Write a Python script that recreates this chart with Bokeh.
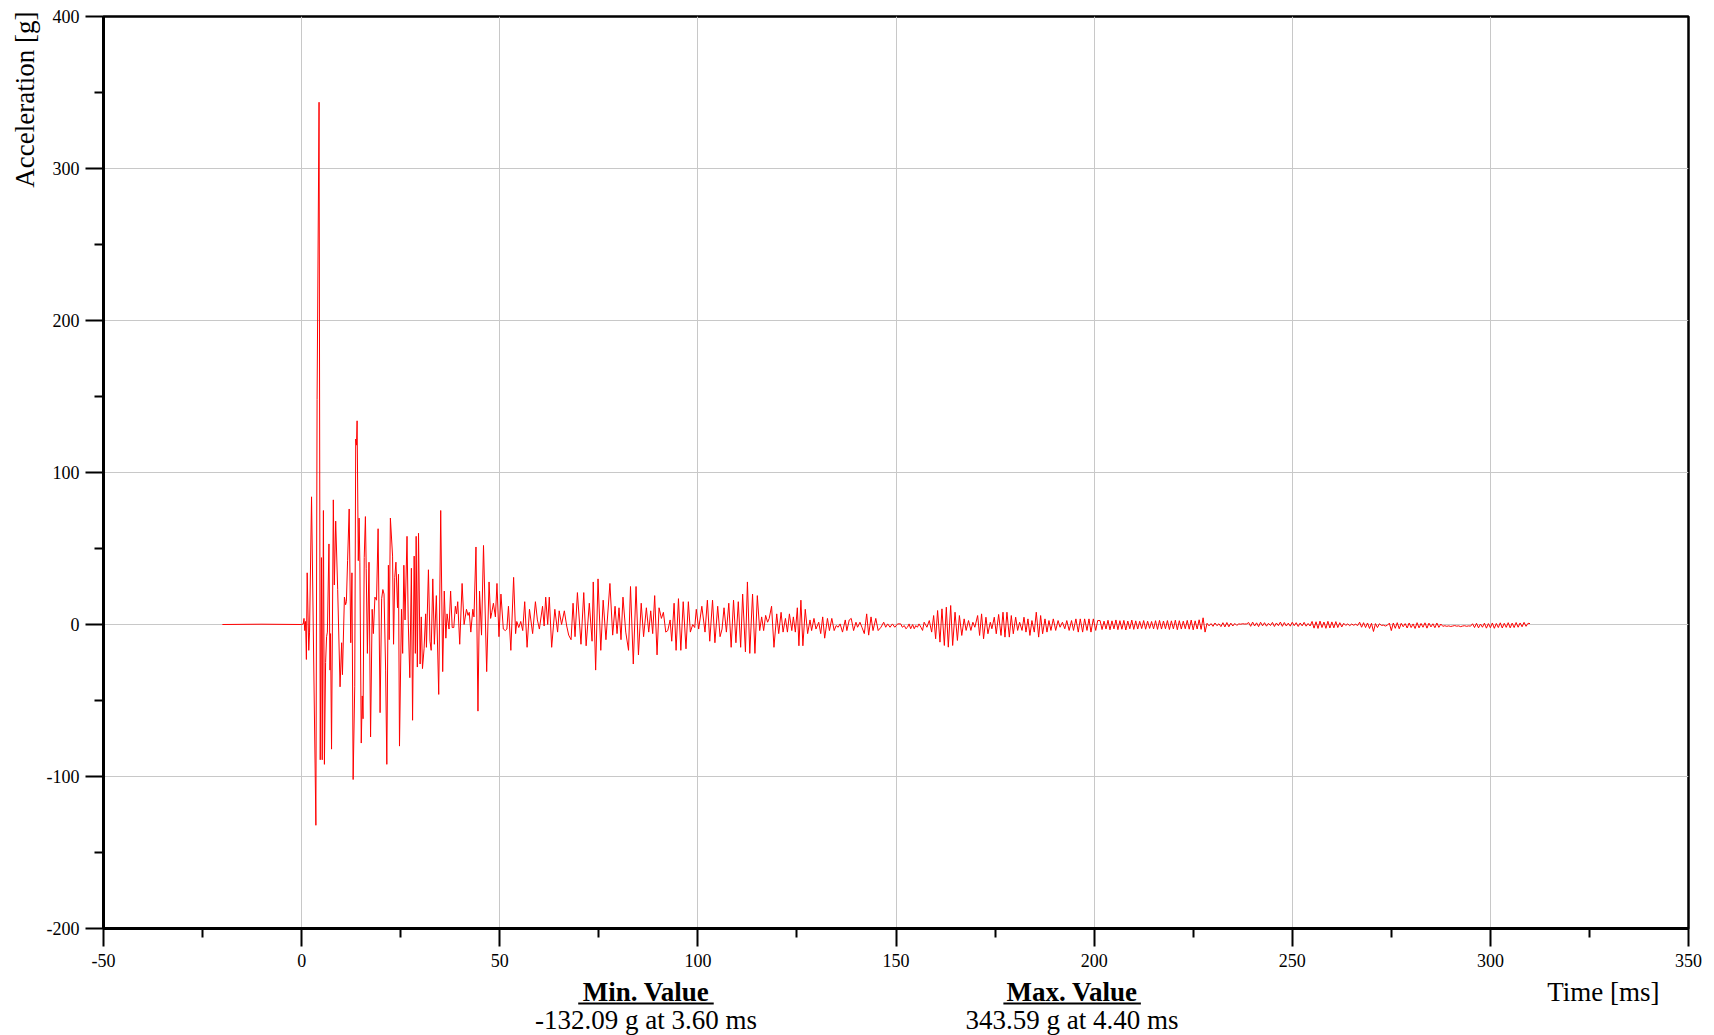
import numpy as np
from bokeh.plotting import figure
from bokeh.models import Range1d, FixedTicker, Title, PrintfTickFormatter
from bokeh.layouts import column
from bokeh.embed import file_html
from bokeh.resources import INLINE
from bokeh.core.properties import value

# ---------------- data ----------------
# impact phase (-20 .. 22 ms)
t_seg1 = [-20.0, -10.0, 0.0, 0.4, 0.6, 0.8, 1.0, 1.2, 1.4, 1.8, 2.0, 2.5, 3.6, 3.9, 4.4, 4.7, 5.0, 5.2, 5.5, 5.75,
          6.05, 6.3, 6.5, 6.9, 7.15, 7.3, 7.55, 8.0, 8.25, 8.6, 9.1, 9.7, 10.1, 10.3, 10.8, 11.1, 11.3, 11.6, 12.0, 12.4,
          12.7, 13.0, 13.4, 13.65, 13.85, 14.0, 14.3, 14.5, 14.7, 15.05, 15.3, 15.5, 15.8, 16.1, 16.3, 16.6, 17.0, 17.4,
          17.8, 18.1, 18.5, 18.9, 19.3, 19.8, 20.2, 20.5, 20.8, 21.2, 21.5, 21.9, 22.1]
a_seg1 = [0.0, 0.2, 0.0, 0.3, 4, -4, 2, -23, 34, -17, -5, 84, -132.09, 148, 343.59, -89, 44, -89, 75, -92,
          -25, -8, -5, 53, -30, -6, -82, 82, 26, 68, 23, -41, -12, -33, 18, 13, 15, 42, 76, -12,
          34, -102, -41, 122, 118, 134, 42, 70, 41, -78, -47, -62, 44, 71, 37, -19, 41, -74,
          10, -6, 18, 16, 63, -58, 17, 23, 20, -30, -92, 39, -10]

t_seg2 = [22.4, 22.95, 23.2, 23.5, 23.8, 24.2, 24.45, 24.7, 25.2, 25.5, 25.8, 26.1, 26.6, 26.9, 27.3, 27.7, 28.0,
          28.4, 28.7, 28.9, 29.2, 29.5, 29.9, 30.2, 30.5, 30.9, 31.3, 31.5, 32.0, 32.4, 32.7, 33.1, 33.5, 34.0, 34.6,
          35.1, 35.6, 36.0, 36.4, 36.7, 37.2, 37.6, 38.0, 38.4, 38.8, 39.1, 39.4, 39.9, 40.5, 41.0, 41.6, 42.0, 42.3,
          42.7, 43.2, 43.5, 44.0, 44.5, 44.9, 45.4, 45.9, 46.7, 47.3, 47.7, 48.0, 48.4, 48.9, 49.3, 49.8]
a_seg2 = [70, 45, -13, 31, 41, 11, 33, -80, 10, -19, 39, 3, 58, 3, -35, 37, -63,
          45, -19, 58, -28, 60, -26, 5, -29, -16, 7, -15, 36, -11, -17, 30, -13, 19, -46,
          75, -31, 22, -9, 7, -3, 22, -2, -2, 12, 7, 15, -13, 27, 0, 10, 6, 8,
          -5, 10, 5, 51, -57, 22, -7, 52, -31, 28, 4, 8, 14, 5, 27, -8]

t_seg3 = [50.3, 50.9, 51.4, 51.8, 52.2, 52.8, 53.5, 54.0, 54.3, 54.8, 55.3, 55.8, 56.3, 56.9, 57.5, 58.3, 59.0, 59.5,
          60.0, 60.8, 61.2, 61.6, 62.1, 62.5, 63.1, 63.9, 64.6, 65.0, 65.6, 66.3, 66.9, 67.4, 68.0, 68.5, 69.0, 69.6,
          70.5, 71.2, 71.8, 72.6, 73.3, 73.6, 74.2, 74.8, 75.5, 76.1, 76.8, 77.8, 78.5, 79.1, 79.6, 80.1, 80.6, 81.1,
          81.8, 82.5, 83.0, 83.7, 84.4, 85.0, 85.7, 86.3, 87.0, 87.6, 88.1, 88.6, 89.1, 89.7, 90.2, 90.8, 91.3, 91.9,
          92.4, 93.0, 93.4, 94.0, 94.5, 95.1, 95.7, 96.3, 97.0, 97.6, 98.1, 98.7, 99.2, 99.6, 100.2]
a_seg3 = [20, -3, -4, -3, 12, -17, 31, -6, 2, -2, 2, -4, 15, -15, 10, -6, 15, 3,
          -3, 12, -1, 18, 0, 18, -15, 10, -5, 9, 0, 9, -1, -7, -10, 14, -8, 21,
          -13, 21, -14, 14, -11, 28, -30, 30, -17, 16, -10, 27, -7, 12, -6, 11, -10, 18,
          -5, -17, 25, -26, 25, -20, 14, -8, 11, -5, 9, -6, 19, -20, 11, 4, 8, -5,
          -4, 3, -11, 14, -17, 17, -17, 15, -16, 15, -5, 0, -2, 10, -3]

t_seg4 = [101.0, 101.8, 102.4, 103.0, 103.7, 104.3, 105.0, 105.6, 106.1, 106.6, 107.2, 107.8, 108.4, 109.0, 109.6,
          110.2, 110.8, 111.3, 112.0, 112.5, 113.1, 113.8, 114.4, 115.0, 115.6, 116.1, 116.6, 117.1, 117.6, 118.0,
          118.6, 119.2, 119.9, 120.4, 121.0, 121.5, 122.1, 122.6, 123.1, 123.7, 124.1, 124.6, 125.1, 125.5, 126.0,
          126.5, 127.1, 127.7, 128.3, 128.7, 129.3, 129.8, 130.5, 131.0, 131.5, 132.0, 132.7, 133.2, 133.8, 134.4,
          134.9, 135.4, 135.9, 136.5, 137.2, 137.6, 138.2, 138.7, 139.3, 139.9, 140.3, 140.9, 141.4, 142.0, 142.6,
          143.1, 143.7, 144.2, 144.9, 145.5, 146.2, 146.9, 147.4, 147.9, 148.5, 149.1, 149.7, 150.4]
a_seg4 = [12, -5, 16, -11, 16, -12, 12, -8, -3, 11, -5, 14, -15, 16, -12,
          15, -15, 20, -18, 28, -19, 20, -19, 19, -4, 5, -4, 6, 1.5, 4,
          12, -15, 7, -6, 8, -5, 4, -5, 7, -4, 5, -5, 11, -14, 16,
          -14, 10, -6, 3, -4, 4, -3, 1.5, -6, 5, -9, 4, -4, 4, -4,
          -0.7, -1.8, 0.4, -5, 3, -4, 3, 4, -4, 1.5, -1.8, 1.5, -1.8, -6, 7,
          -7, 5, -4, 4, -4, -1.8, 1.5, -1.8, 0.4, -1.8, 0.4, -1.8, 0.4]

t_seg5 = [151.2, 151.6, 152.1, 152.5, 152.9, 153.3, 153.7, 154.2, 154.6, 155.0, 155.4, 155.8, 156.3, 156.7, 157.1,
          157.8, 158.4, 159.0, 159.5, 160.0, 160.5, 161.1, 161.6, 162.2, 162.7, 163.2, 163.8, 164.3, 164.9, 165.5,
          166.0, 166.6, 167.2, 167.7, 168.3, 168.9, 169.4, 169.9, 170.6, 171.1, 171.6, 172.1, 172.7, 173.2, 173.8,
          174.2, 174.8, 175.3, 175.9, 176.5, 177.0, 177.5, 178.0, 178.6, 179.1, 179.6, 180.2, 180.7, 181.2, 181.8,
          182.3, 182.8, 183.3, 183.8, 184.3, 184.9, 185.4, 186.0, 186.5, 187.0, 187.6, 188.1, 188.6, 189.1, 189.7,
          190.3, 190.9, 191.4, 192.0, 192.6, 193.1, 193.7, 194.3, 194.8, 195.4, 196.0, 196.5, 197.1, 197.6, 198.2,
          198.7, 199.2, 199.8, 200.4, 200.9]
a_seg5 = [0.4, -1.8, -0.7, -2.8, -1.8, 0.4, -2.8, 0, -2.8, -0.7, -1.8, 0.4, -1.8, -3.9, 1.5,
          -1.8, 2.6, -5.0, 5.9, -9.4, 9.2, -11.6, 10.3, -13.8, 11.4, -14.9, 12.5, -13.8, 8.1, -10.5,
          5.9, -7.2, 3.7, -3.9, 2.6, -3.9, 1.5, -1.8, 5.9, -7.2, 7.0, -9.4, 4.8, -6.1, 1.5,
          -2.8, 4.8, -6.1, 6.6, -7.2, 8.1, -8.3, 8.1, -8.3, 5.9, -6.1, 4.8, -3.9, 1.5, -3.9,
          4.8, -5.0, 3.7, -7.2, 2.6, -5.0, 8.1, -8.3, 5.9, -6.1, 3.7, -5.0, 2.6, -3.9, 3.7,
          -3.9, 2.6, -1.8, 1.5, -2.8, 2.6, -3.9, 2.6, -3.9, 3.7, -5.0, 3.7, -5.0, 3.7, -3.9,
          3.7, -5.0, 3.7, -3.9, 2.6]

# decaying tail, sampled every 0.5 ms from 201.5 ms
tail_start_ms = 201.5
tail_step_ms = 0.5
a_tail = [2.6, -3.3, 2.2, -3.0, 2.8, -3.5, 2.4, -2.9, 3.0, -3.4, 2.5, -3.1, 2.7, -3.6, 2.3, -2.8, 2.9, -3.2,
          2.4, -3.0, 2.1, -2.7, 2.6, -3.1, 2.2, -2.6, 2.0, -2.9, 2.5, -3.2, 2.7, -3.0, 2.3, -2.8, 2.6, -3.3,
          2.4, -2.9, 2.8, -3.4, 2.5, -3.0, 2.2, -2.8, 2.7, -3.1, 2.9, -3.5, 2.4, -3.0, 3.1, -3.2,
          4.4, -5.0,
          0.8, -0.9, 0.6, -1.2, 1.0, -0.8, 0.5, -1.4, 1.2, -1.6, 1.3, -1.5, 0.9, -1.0, 0.7, -0.6,
          0.4, 0.2, 0.5, 0.3, 0.4,
          1.3, -1.2, 1.6, -1.0, 1.1, -1.4, 1.5, -0.9, 1.2, -1.1, 0.8, -0.7, 1.4, -1.3, 1.0, -0.8,
          1.6, -1.2, 1.3, -1.0, 0.9, -1.1, 1.5, -0.8, 1.2, -1.3, 1.0, -0.9, 1.4, -1.1, 0.7, -1.0,
          2.0, -2.4, 1.8, -2.6, 2.2, -2.0, 1.6, -2.5, 2.1, -2.3, 1.7, -2.2, 1.9, -2.0, 1.2, -1.6, 0.8,
          -0.6, 0.4, -0.8, 0.3, -0.5, 0.2, -0.7,
          1.5, -1.8, 1.2, -2.0, 1.0, -2.6, 0.8, -4.6, 0.6, -2.0, 0.5,
          -0.6, -0.4, -1.0, -0.5,
          0.9, -4.0, 1.0, -2.5, 1.2, -2.8, 0.8, -1.5, 0.6, -2.3, 1.0, -2.0, 0.4, -2.6, 1.2, -2.2,
          0.7, -1.8, 1.1, -2.4, 0.9, -1.6, 0.5, -2.1, 1.0, -1.9, 0.3, -1.2,
          -0.8, -1.2, -0.9, -1.3, -1.0, -0.7, -1.1, -0.9, -1.4, -1.0, -0.8, -1.2, -0.9, -1.1,
          0.5, -2.0, 0.8, -2.2, 0.3, -1.8, 0.9, -2.4, 0.6, -2.1, 1.0, -2.5, 0.7, -2.0, 1.1, -2.3,
          0.8, -1.9, 1.2, -2.2, 0.9, -2.0, 1.3, -1.8, 1.0, -1.5, 1.4, -1.2, 0.8, 0.6]

x_major = [-50, 0, 50, 100, 150, 200, 250, 300, 350]
x_minor = [-25, 25, 75, 125, 175, 225, 275, 325]
y_major = [-200, -100, 0, 100, 200, 300, 400]
y_minor = [-150, -50, 50, 150, 250, 350]

x_label = "Time [ms]"
y_label = "Acceleration [g]"

# ---------------- assemble ----------------
t_tail = tail_start_ms + tail_step_ms * np.arange(len(a_tail))
t = np.concatenate([t_seg1, t_seg2, t_seg3, t_seg4, t_seg5, t_tail]).astype(float)
a = np.concatenate([a_seg1, a_seg2, a_seg3, a_seg4, a_seg5, a_tail]).astype(float)

i_min = int(np.argmin(a))
i_max = int(np.argmax(a))
min_text = f"{a[i_min]:.2f} g at {t[i_min]:.2f} ms"
max_text = f"{a[i_max]:.2f} g at {t[i_max]:.2f} ms"

SERIF = "Liberation Serif"

H = 1035
LEFT, TOP, FW, FH, RIGHT, BOTTOM = 103, 16, 1585, 912, 24, 47

xr = Range1d(-50, 350)
p = figure(x_range=xr, y_range=Range1d(-200, 400),
           frame_width=FW, frame_height=FH,
           min_border_left=LEFT, min_border_right=RIGHT, min_border_top=TOP, min_border_bottom=BOTTOM,
           output_backend="svg", toolbar_location=None,
           background_fill_color="white", border_fill_color="white")

p.line(t, a, line_color="#ff0000", line_width=1)

p.xaxis.ticker = FixedTicker(ticks=x_major, minor_ticks=x_minor)
p.yaxis.ticker = FixedTicker(ticks=y_major, minor_ticks=y_minor)
for ax in (p.xaxis[0], p.yaxis[0]):
    ax.formatter = PrintfTickFormatter(format="%d")
    ax.axis_line_color = "black"
    ax.axis_line_width = 3
    ax.major_tick_line_color = "black"
    ax.major_tick_line_width = 2
    ax.major_tick_in = 0
    ax.major_tick_out = 18
    ax.minor_tick_line_color = "black"
    ax.minor_tick_line_width = 2
    ax.minor_tick_in = 0
    ax.minor_tick_out = 9
    ax.major_label_text_font = SERIF
    ax.major_label_text_font_size = "18px"
    ax.major_label_text_color = "black"
p.xaxis[0].major_label_standoff = 7
p.yaxis[0].major_label_standoff = 6

p.grid.grid_line_color = "#c8c8c8"
p.grid.grid_line_width = 1
p.outline_line_color = "black"
p.outline_line_width = 2.5
p.outline_line_alpha = 1.0

p.add_layout(Title(text=y_label, align="right", text_font=SERIF, text_font_size="27px",
                   text_font_style="normal", text_color="black", standoff=7, offset=-5), "left")

# ---------------- annotation strip below ----------------
strip_h = H - (TOP + FH + BOTTOM)
p2 = figure(x_range=xr, y_range=Range1d(strip_h, 0),
            frame_width=FW, frame_height=strip_h,
            min_border_left=LEFT, min_border_right=RIGHT, min_border_top=0, min_border_bottom=0,
            x_axis_location=None, y_axis_location=None,
            output_backend="svg", toolbar_location=None,
            outline_line_color=None, background_fill_color="white", border_fill_color="white")
p2.grid.visible = False

p2.text(x=[86.9, 194.4], y=[16, 16], text=["Min. Value", "Max. Value"],
        text_font=value(SERIF), text_font_style="bold", text_font_size="27px",
        text_align="center", text_baseline="middle", text_color="black")
p2.segment(x0=[69.8, 177.1], y0=[28, 28], x1=[104.0, 211.8], y1=[28, 28],
           line_color="black", line_width=2)
p2.text(x=[86.9, 194.4], y=[44, 44], text=[min_text, max_text],
        text_font=value(SERIF), text_font_size="27px",
        text_align="center", text_baseline="middle", text_color="black")
p2.text(x=[328.5], y=[16], text=[x_label],
        text_font=value(SERIF), text_font_size="27px",
        text_align="center", text_baseline="middle", text_color="black")

layout = column(p, p2, spacing=0)
open("out.html", "w").write(file_html(layout, INLINE))
